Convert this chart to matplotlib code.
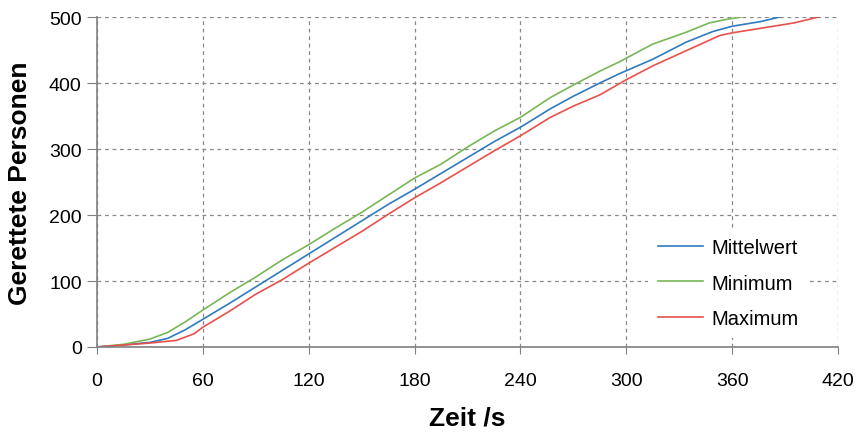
import matplotlib
matplotlib.use("Agg")
from matplotlib import pyplot as plt

plt.rcParams['font.family'] = ['Liberation Sans', 'DejaVu Sans']

# time in s and rescued persons
t_mittel = [0, 15, 30, 40, 50, 60, 75, 90, 105, 120, 135, 150, 165, 180, 195, 210, 225, 240,
            257, 270, 285, 296, 315, 334, 349, 360, 376, 387]
mittelwert = [0, 3, 7, 13, 26, 42, 66, 91, 116, 141, 166, 191, 216, 239, 263, 287, 311, 333,
              361, 380, 400, 414, 436, 462, 478, 486, 493, 500]

t_min = [0, 15, 30, 40, 50, 60, 75, 90, 105, 120, 135, 150, 165, 180, 195, 210, 225, 240,
         257, 270, 285, 296, 315, 334, 347, 356, 365]
minimum = [0, 4, 12, 22, 38, 56, 82, 106, 132, 155, 180, 204, 230, 256, 277, 303, 327, 348,
           378, 397, 418, 432, 459, 477, 491, 496, 500]

t_max = [0, 15, 30, 45, 55, 60, 75, 90, 105, 120, 135, 150, 165, 180, 195, 210, 225, 240,
         257, 270, 285, 300, 315, 334, 353, 360, 381, 395, 409]
maximum = [0, 3, 6, 10, 20, 30, 54, 80, 102, 127, 151, 175, 201, 226, 249, 273, 297, 320,
           348, 365, 382, 405, 426, 449, 472, 476, 485, 491, 500]

fig = plt.figure(figsize=(8.56, 4.35), dpi=100)
ax = fig.add_axes([0.1133, 0.2, 0.8657, 0.7586])

ax.plot(t_mittel, mittelwert, color='#2f7bbf', lw=1.2, label='Mittelwert')
ax.plot(t_min, minimum, color='#77b754', lw=1.2, label='Minimum')
ax.plot(t_max, maximum, color='#e8504c', lw=1.2, label='Maximum')

ax.set_xlim(0, 420)
ax.set_ylim(0, 500)
ax.set_xticks(range(0, 421, 60))
ax.set_yticks(range(0, 501, 100))
ax.tick_params(labelsize=14, direction='out', color='#808080')
ax.tick_params(axis='x', length=5, pad=13)
ax.tick_params(axis='y', length=7, pad=4)
ax.grid(True, color='#888888', linestyle=(0, (3, 3)), lw=0.9)

for s in ['top', 'right']:
    ax.spines[s].set_visible(False)
for s in ['left', 'bottom']:
    ax.spines[s].set_color('#808080')
    ax.spines[s].set_linewidth(1.2)

ax.set_xlabel('Zeit /s', fontsize=19, fontweight='bold', labelpad=12)
ax.set_ylabel('Gerettete Personen', fontsize=19, fontweight='bold', labelpad=12)

# legend sits on a white box that hides the grid behind it
leg = ax.legend(loc='center left', bbox_to_anchor=(648 / 856, 1 - 284 / 435),
                bbox_transform=fig.transFigure, frameon=True, fancybox=False,
                facecolor='white', edgecolor='none', framealpha=1, fontsize=14.5,
                handlelength=2.25, handletextpad=0.4, labelspacing=0.8,
                borderpad=0.5, borderaxespad=0)

fig.savefig('out.png')
